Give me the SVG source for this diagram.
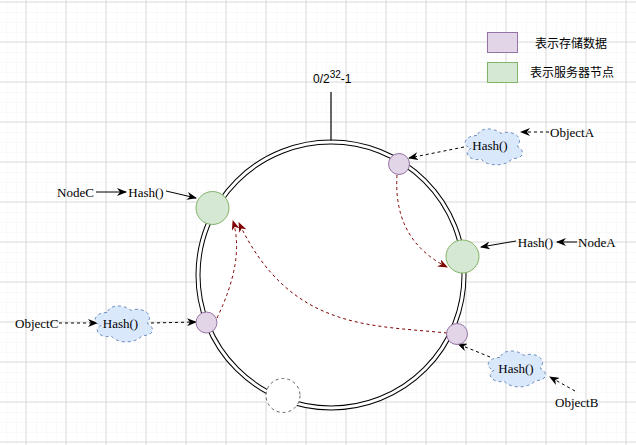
<svg xmlns="http://www.w3.org/2000/svg" width="636" height="445" viewBox="0 0 636 445">
<style>
.ser{font-family:"Liberation Serif","Times New Roman",serif;font-size:13px;fill:#000}
.cjk{font-family:"Liberation Sans","Noto Sans CJK SC",sans-serif;font-size:12px;fill:#000}
.sans{font-family:"Liberation Sans",Arial,sans-serif;font-size:12px;fill:#000}
.data{fill:#e1d5e7;stroke:#9673a6;stroke-width:1}
.srv{fill:#d5e8d4;stroke:#82b366;stroke-width:1}
.cloud{fill:#dae8fc;stroke:#6c8ebf;stroke-width:1;stroke-dasharray:3 3}
.blk{fill:none;stroke:#000;stroke-width:1}
.dash{stroke-dasharray:3 3}
.red{fill:none;stroke:#7f0000;stroke-width:1;stroke-dasharray:3 3}
</style>
<defs>
<pattern id="minor" x="26" y="2" width="10" height="10" patternUnits="userSpaceOnUse">
<path d="M0,0 H10 M0,0 V10" fill="none" stroke="#f3f3f3" stroke-width="1"/>
</pattern>
<pattern id="major" x="25.5" y="1.5" width="40" height="40" patternUnits="userSpaceOnUse">
<path d="M0,0.5 H40 M0.5,0 V40" fill="none" stroke="#dadada" stroke-width="1"/>
</pattern>
<marker id="ab" viewBox="0 0 10 8" refX="9" refY="4" markerWidth="10" markerHeight="8" markerUnits="userSpaceOnUse" orient="auto">
<path d="M0,0 L10,4 L0,8 L3,4 Z" fill="#000"/>
</marker>
<marker id="ar" viewBox="0 0 10 8" refX="9" refY="4" markerWidth="10" markerHeight="8" markerUnits="userSpaceOnUse" orient="auto">
<path d="M0,0 L10,4 L0,8 L3,4 Z" fill="#7f0000"/>
</marker>
<path id="cl" d="M16,10.5 C3.2,10.5 0,21 10.24,23.1 C0,27.72 11.52,37.8 19.84,33.6 C25.6,42 44.8,42 51.2,33.6 C64,33.6 64,25.2 56,21 C64,12.6 51.2,4.2 40,8.4 C32,2.1 19.2,2.1 16,10.5 Z"/>
</defs>
<rect width="636" height="445" fill="#fff"/>
<rect width="636" height="445" fill="url(#minor)"/>
<rect width="636" height="445" fill="url(#major)"/>

<g id="legend">
<rect class="data" x="487.5" y="32.5" width="30" height="20"/>
<rect class="srv" x="487.5" y="62.5" width="30" height="20"/>
<text class="cjk" x="571" y="48" text-anchor="middle">表示存储数据</text>
<text class="cjk" x="572" y="77" text-anchor="middle">表示服务器节点</text>
</g>

<g id="ring">
<circle cx="331" cy="275" r="133" fill="#fff" stroke="#000" stroke-width="5"/>
<circle cx="331" cy="275" r="133" fill="none" stroke="#fff" stroke-width="3"/>
<line x1="331" y1="92" x2="331" y2="141" stroke="#333" stroke-width="1.5"/>
<text class="sans" x="313" y="83">0/2<tspan dy="-5" font-size="10">32</tspan><tspan dy="5">-1</tspan></text>
</g>

<g id="empty-slot"><circle cx="283" cy="395.5" r="17" fill="#fff" stroke="#666" stroke-width="1" stroke-dasharray="3 3"/></g>

<g id="connectors">
<line class="blk dash" x1="549" y1="132" x2="521" y2="132" marker-end="url(#ab)"/>
<line class="blk dash" x1="464" y1="147" x2="409" y2="158" marker-end="url(#ab)"/>
<line class="blk" x1="96" y1="192" x2="126" y2="192" marker-end="url(#ab)"/>
<line class="blk" x1="166" y1="191" x2="196" y2="198" marker-end="url(#ab)"/>
<line class="blk" x1="577" y1="242" x2="557" y2="242" marker-end="url(#ab)"/>
<line class="blk" x1="516" y1="241" x2="481" y2="247" marker-end="url(#ab)"/>
<line class="blk dash" x1="59" y1="323" x2="97" y2="323" marker-end="url(#ab)"/>
<line class="blk dash" x1="151" y1="323" x2="196" y2="322" marker-end="url(#ab)"/>
<line class="blk dash" x1="575" y1="391" x2="550" y2="377" marker-end="url(#ab)"/>
<line class="blk dash" x1="490" y1="357" x2="458" y2="344" marker-end="url(#ab)"/>
<path class="red" d="M397,175 Q393,240 447,267" marker-end="url(#ar)"/>
<path class="red" d="M217,318 Q245,260 233,221" marker-end="url(#ar)"/>
<path class="red" d="M447,333 C370,325 290,330 239,223" marker-end="url(#ar)"/>
</g>

<g id="dataA"><circle class="data" cx="399" cy="164" r="10.5"/></g>
<g id="dataC"><circle class="data" cx="206.5" cy="322.5" r="10.5"/></g>
<g id="dataB"><circle class="data" cx="457" cy="334" r="10.5"/></g>
<g id="nodeC"><circle class="srv" cx="212.5" cy="208" r="16.5"/></g>
<g id="nodeA"><circle class="srv" cx="462.5" cy="256.5" r="16.5"/></g>

<g id="cloudA"><use href="#cl" class="cloud" x="461" y="125"/><text class="ser" x="490" y="149.5" text-anchor="middle">Hash()</text></g>
<g id="cloudC"><use href="#cl" class="cloud" x="91" y="302"/><text class="ser" x="120.5" y="327.5" text-anchor="middle">Hash()</text></g>
<g id="cloudB"><use href="#cl" class="cloud" x="484" y="347"/><text class="ser" x="516" y="372.5" text-anchor="middle">Hash()</text></g>

<g id="labels">
<text class="ser" x="550" y="137">ObjectA</text>
<text class="ser" x="57" y="197">NodeC</text>
<text class="ser" x="146" y="197" text-anchor="middle">Hash()</text>
<text class="ser" x="535.5" y="247" text-anchor="middle">Hash()</text>
<text class="ser" x="578" y="247">NodeA</text>
<text class="ser" x="15" y="328">ObjectC</text>
<text class="ser" x="555" y="407">ObjectB</text>
</g>
</svg>
